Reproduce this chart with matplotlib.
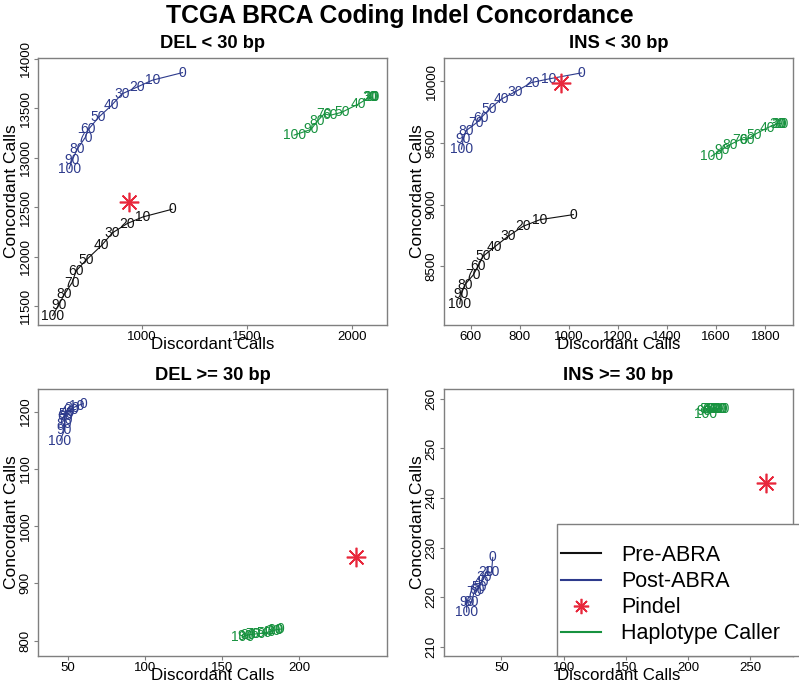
import matplotlib
matplotlib.use("Agg")
from matplotlib import pyplot as plt
from matplotlib.lines import Line2D
from matplotlib.patches import Rectangle

plt.rcParams['font.family'] = ['Liberation Sans', 'DejaVu Sans']

# thresholds used as point labels (same for every series)
thresholds = [0, 10, 20, 30, 40, 50, 60, 70, 80, 90, 100]

# DEL < 30 bp
del_small_pre_x = [1143, 1005, 930, 859, 809, 734, 687, 667, 631, 603, 575]
del_small_pre_y = [12479, 12402, 12335, 12240, 12116, 11965, 11857, 11736, 11619, 11511, 11403]
del_small_post_x = [1193, 1049, 975, 905, 855, 794, 745, 729, 693, 668, 653]
del_small_post_y = [13862, 13785, 13714, 13647, 13530, 13411, 13287, 13203, 13092, 12978, 12890]
del_small_hc_x = [2098, 2095, 2090, 2085, 2032, 1952, 1896, 1868, 1835, 1805, 1725]
del_small_hc_y = [13613, 13613, 13613, 13613, 13546, 13461, 13430, 13445, 13370, 13287, 13230]
del_small_pindel = (936, 12553)

# INS < 30 bp
ins_small_pre_x = [1018, 882, 813, 752, 695, 650, 630, 609, 576, 562, 555]
ins_small_pre_y = [8919, 8878, 8824, 8743, 8654, 8581, 8500, 8427, 8351, 8276, 8195]
ins_small_post_x = [1050, 917, 848, 782, 723, 675, 642, 623, 581, 570, 562]
ins_small_post_y = [10068, 10019, 9990, 9916, 9854, 9772, 9705, 9663, 9600, 9535, 9450]
ins_small_hc_x = [1866, 1861, 1856, 1850, 1807, 1756, 1725, 1698, 1657, 1623, 1580]
ins_small_hc_y = [9657, 9657, 9657, 9657, 9622, 9568, 9527, 9527, 9487, 9446, 9392]
ins_small_pindel = (968, 9990)

# DEL >= 30 bp
del_large_post_x = [60, 56, 53, 52, 50, 49, 48, 48, 48, 48, 45]
del_large_post_y = [1214, 1210, 1206, 1203, 1200, 1196, 1192, 1186, 1178, 1168, 1149]
del_large_hc_x = [188, 185, 184, 183, 180, 177, 173, 170, 167, 165, 163]
del_large_hc_y = [820, 819, 818, 817, 815, 813, 812, 811, 810, 808, 806]
del_large_pindel = (237, 946)

# INS >= 30 bp
ins_large_post_x = [43, 42, 38, 36, 34, 32, 30, 28, 26, 22, 22]
ins_large_post_y = [228, 225, 225, 224, 223, 222, 221.5, 221, 219, 219, 217]
ins_large_hc_x = [228, 227, 226, 224, 222, 220, 218, 216, 215, 213, 214]
ins_large_hc_y = [258, 258, 258, 258, 258, 258, 258, 258, 258, 257.5, 257]
ins_large_pindel = (263, 243)

BLACK = '#111111'
BLUE = '#2d3a8c'
GREEN = '#17923f'
RED = '#e8283c'
GRAY = '#7f7f7f'
PINDEL_MARKER = (8, 2, 0)

W, H = 799, 688


def px_axes(left, top, right, bottom):
    return [left / W, 1 - bottom / H, (right - left) / W, (bottom - top) / H]


def draw_series(ax, xs, ys, color):
    ax.plot(xs, ys, color=color, lw=0.8, zorder=2)
    for x, y, t in zip(xs, ys, thresholds):
        ax.text(x, y, str(t), color=color, fontsize=10, ha='center', va='center', zorder=3)


def setup_panel(ax, title, xlim, ylim, xticks, yticks):
    ax.set_xlim(*xlim)
    ax.set_ylim(*ylim)
    ax.set_xticks(xticks)
    ax.set_yticks(yticks)
    for s in ax.spines.values():
        s.set_color(GRAY)
        s.set_linewidth(1.0)
    ax.tick_params(colors=GRAY, labelcolor='black', labelsize=9.5, length=3, width=0.8, pad=1.5)
    for lbl in ax.get_yticklabels():
        lbl.set_rotation(90)
        lbl.set_va('center')
    ax.set_xlabel('Discordant Calls', fontsize=12.2, va='center')
    ax.set_ylabel('Concordant Calls', fontsize=12.5, va='center')
    ax.xaxis.set_label_coords(0.5, -19 / 267)
    ax.yaxis.set_label_coords(-27 / 349, 0.5)
    ax.text(0.5, 1 + 14 / 267, title, transform=ax.transAxes, ha='center', va='center',
            fontsize=13.2, fontweight='bold')


fig = plt.figure(figsize=(W / 100, H / 100), dpi=100)
fig.text(0.5, 1 - 16 / H, 'TCGA BRCA Coding Indel Concordance', ha='center', va='center',
         fontsize=17.8, fontweight='bold')

ax1 = fig.add_axes(px_axes(38, 58, 387, 325))
draw_series(ax1, del_small_pre_x, del_small_pre_y, BLACK)
draw_series(ax1, del_small_post_x, del_small_post_y, BLUE)
draw_series(ax1, del_small_hc_x, del_small_hc_y, GREEN)
ax1.plot(*del_small_pindel, marker=PINDEL_MARKER, ms=14, mew=1.2, color=RED, zorder=4)
setup_panel(ax1, 'DEL < 30 bp', (505, 2167), (11308, 14010),
            [1000, 1500, 2000], [11500, 12000, 12500, 13000, 13500, 14000])

ax2 = fig.add_axes(px_axes(444, 58, 793, 325))
draw_series(ax2, ins_small_pre_x, ins_small_pre_y, BLACK)
draw_series(ax2, ins_small_post_x, ins_small_post_y, BLUE)
draw_series(ax2, ins_small_hc_x, ins_small_hc_y, GREEN)
ax2.plot(*ins_small_pindel, marker=PINDEL_MARKER, ms=14, mew=1.2, color=RED, zorder=4)
setup_panel(ax2, 'INS < 30 bp', (491, 1913), (8024, 10189),
            [600, 800, 1000, 1200, 1400, 1600, 1800], [8500, 9000, 9500, 10000])

ax3 = fig.add_axes(px_axes(38, 389, 387, 656))
draw_series(ax3, del_large_post_x, del_large_post_y, BLUE)
draw_series(ax3, del_large_hc_x, del_large_hc_y, GREEN)
ax3.plot(*del_large_pindel, marker=PINDEL_MARKER, ms=14, mew=1.2, color=RED, zorder=4)
setup_panel(ax3, 'DEL >= 30 bp', (30.8, 256.8), (773, 1239.6),
            [50, 100, 150, 200], [800, 900, 1000, 1100, 1200])

ax4 = fig.add_axes(px_axes(444, 389, 793, 656))
draw_series(ax4, ins_large_post_x, ins_large_post_y, BLUE)
draw_series(ax4, ins_large_hc_x, ins_large_hc_y, GREEN)
ax4.plot(*ins_large_pindel, marker=PINDEL_MARKER, ms=14, mew=1.2, color=RED, zorder=4)
setup_panel(ax4, 'INS >= 30 bp', (3.8, 284.4), (208.1, 262),
            [50, 100, 150, 200, 250], [210, 220, 230, 240, 250, 260])

# legend box sits over the lower right panel and runs off the page edge
box = Rectangle((556.7 / W, 1 - 656 / H), (820 - 556.7) / W, (656 - 524.3) / H,
                transform=fig.transFigure, facecolor='white', edgecolor=GRAY, lw=1.0, zorder=5)
fig.add_artist(box)

handles = [
    Line2D([], [], color=BLACK, lw=1.5),
    Line2D([], [], color=BLUE, lw=1.5),
    Line2D([], [], color=RED, lw=0, marker=PINDEL_MARKER, ms=11, mew=1.2),
    Line2D([], [], color=GREEN, lw=1.5),
]
labels = ['Pre-ABRA', 'Post-ABRA', 'Pindel', 'Haplotype Caller']
leg = fig.legend(handles, labels, loc='upper left', bbox_to_anchor=(561 / W, 1 - 545 / H),
                 frameon=False, fontsize=15.5, handlelength=1.85, handletextpad=0.95,
                 labelspacing=0.24, borderaxespad=0, borderpad=0)
leg.set_zorder(6)

fig.savefig('out.png', dpi=100)
